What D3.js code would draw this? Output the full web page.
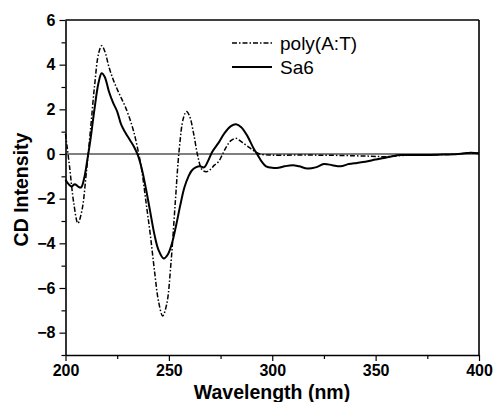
<!DOCTYPE html>
<html>
<head>
<meta charset="utf-8">
<script src="https://cdn.jsdelivr.net/npm/d3@7"></script>
<style>
  body { margin: 0; background: #fff; }
  text { font-family: "Liberation Sans", Arial, sans-serif; }
</style>
</head>
<body>
<div id="chart"></div>
<script>
// poly(A:T) (dash-dot)
var polyWl = [200, 202, 204, 206, 208, 210, 212, 214, 216, 217.5, 219, 221, 223, 225, 227, 229, 231, 233, 235, 237, 239, 241, 243, 245, 247, 249, 251, 253, 255, 257, 258.5, 260, 262, 264, 266, 268, 270, 272, 274, 276, 278, 280, 282.5, 285, 288, 291, 294, 300, 310, 320, 330, 340, 348, 355, 365, 380, 390, 396, 400];
var polyCd = [0.9, -0.6, -2.2, -3.1, -2.5, -0.9, 1.0, 3.0, 4.5, 4.85, 4.6, 3.9, 3.35, 2.9, 2.5, 2.1, 1.6, 1.0, 0.2, -0.8, -2.2, -3.6, -5.2, -6.6, -7.25, -6.7, -4.9, -2.3, 0.2, 1.6, 1.9, 1.7, 0.9, -0.1, -0.7, -0.8, -0.7, -0.5, -0.35, 0.0, 0.35, 0.6, 0.7, 0.55, 0.35, 0.15, 0.0, -0.05, -0.05, -0.05, -0.06, -0.08, -0.1, -0.12, -0.05, -0.03, 0.0, 0.05, 0.02];

// Sa6 (solid)
var sa6Wl = [200, 201.5, 203, 204.5, 206, 207.5, 209, 210.5, 212, 214, 216, 217.5, 219, 221, 223, 225, 227, 229, 231, 233, 235, 237, 239, 241, 243, 245, 247.5, 249.5, 251.5, 253.5, 255.5, 257.5, 259.5, 261, 263, 265, 267, 269, 271, 274, 277, 280, 282.5, 285, 288, 291, 293, 295, 297, 300, 303, 306, 310, 313, 317, 321, 325, 329, 333, 337, 341, 345, 350, 354, 358, 362, 370, 380, 390, 396, 400];
var sa6Cd = [-1.15, -1.35, -1.45, -1.35, -1.45, -1.5, -1.1, -0.3, 0.6, 2.0, 3.2, 3.62, 3.45, 2.8, 2.3, 1.9, 1.3, 0.95, 0.65, 0.35, -0.05, -0.7, -1.6, -2.6, -3.6, -4.3, -4.68, -4.5, -4.0, -3.2, -2.3, -1.5, -1.0, -0.75, -0.6, -0.55, -0.6, -0.3, 0.1, 0.5, 0.95, 1.25, 1.33, 1.2, 0.8, 0.25, -0.05, -0.35, -0.55, -0.62, -0.62, -0.55, -0.5, -0.55, -0.65, -0.6, -0.45, -0.5, -0.55, -0.45, -0.4, -0.35, -0.25, -0.18, -0.1, -0.05, -0.05, -0.03, 0.0, 0.06, 0.03];

var xTicks = [200, 250, 300, 350, 400];
var yTicks = [-8, -6, -4, -2, 0, 2, 4, 6];
var legendNames = ["poly(A:T)", "Sa6"];

var svgWidth = 493;
var svgHeight = 402;
var margin = { top: 20, right: 14, bottom: 47, left: 65.5 };
var chartWidth = svgWidth - margin.left - margin.right;
var chartHeight = svgHeight - margin.top - margin.bottom;

var svg = d3.select("#chart").append("svg")
    .attr("width", svgWidth)
    .attr("height", svgHeight);

var chartGroup = svg.append("g")
    .attr("transform", `translate(${margin.left}, ${margin.top})`);

var xScale = d3.scaleLinear().domain([200, 400]).range([0, chartWidth]);
var yScale = d3.scaleLinear().domain([-9, 6]).range([chartHeight, 0]);

// zero line
chartGroup.append("line")
    .attr("x1", 0).attr("x2", chartWidth)
    .attr("y1", yScale(0)).attr("y2", yScale(0))
    .attr("stroke", "#000").attr("stroke-width", 1);

// minor ticks
chartGroup.append("g")
    .attr("transform", `translate(0, ${chartHeight})`)
    .call(d3.axisBottom(xScale).tickValues([225, 275, 325, 375]).tickSize(4).tickFormat(""))
    .call(g => g.select(".domain").remove())
    .selectAll("line").attr("stroke-width", 1.2);
chartGroup.append("g")
    .call(d3.axisLeft(yScale).tickValues([-9, -7, -5, -3, -1, 1, 3, 5]).tickSize(4).tickFormat(""))
    .call(g => g.select(".domain").remove())
    .selectAll("line").attr("stroke-width", 1.2);

// major axes
var xAxisG = chartGroup.append("g")
    .attr("transform", `translate(0, ${chartHeight})`)
    .call(d3.axisBottom(xScale).tickValues(xTicks).tickSize(6).tickPadding(4).tickSizeOuter(0));
xAxisG.selectAll("text")
    .attr("font-size", 16).attr("font-weight", "bold").attr("font-family", "Liberation Sans, Arial, sans-serif");

var yAxisG = chartGroup.append("g")
    .call(d3.axisLeft(yScale).tickValues(yTicks).tickSize(6).tickPadding(4).tickSizeOuter(0));
yAxisG.selectAll("text")
    .attr("font-size", 16).attr("font-weight", "bold").attr("font-family", "Liberation Sans, Arial, sans-serif");

[xAxisG, yAxisG].forEach(g => {
    g.select(".domain").attr("stroke-width", 1.6);
    g.selectAll(".tick line").attr("stroke-width", 1.2);
});

// top and right frame
chartGroup.append("line")
    .attr("x1", 0).attr("x2", chartWidth).attr("y1", 0).attr("y2", 0)
    .attr("stroke", "#000").attr("stroke-width", 1.6);
chartGroup.append("line")
    .attr("x1", chartWidth).attr("x2", chartWidth).attr("y1", 0).attr("y2", chartHeight)
    .attr("stroke", "#000").attr("stroke-width", 1.6);

// lines
var line = d3.line()
    .x(d => xScale(d[0]))
    .y(d => yScale(d[1]))
    .curve(d3.curveCatmullRom);

chartGroup.append("path")
    .datum(polyWl.map((w, i) => [w, polyCd[i]]))
    .attr("d", line)
    .attr("fill", "none")
    .attr("stroke", "#000")
    .attr("stroke-width", 1.5)
    .attr("stroke-dasharray", "5,2,1.5,2");

chartGroup.append("path")
    .datum(sa6Wl.map((w, i) => [w, sa6Cd[i]]))
    .attr("d", line)
    .attr("fill", "none")
    .attr("stroke", "#000")
    .attr("stroke-width", 2);

// legend
var legend = svg.append("g");
legendNames.forEach((name, i) => {
    var y = 43 + i * 24;
    legend.append("line")
        .attr("x1", 232).attr("x2", 272)
        .attr("y1", y).attr("y2", y)
        .attr("stroke", "#000")
        .attr("stroke-width", i === 0 ? 1.5 : 2)
        .attr("stroke-dasharray", i === 0 ? "5,2,1.5,2" : null);
    legend.append("text")
        .attr("x", 280).attr("y", y + 7)
        .attr("font-size", 19)
        .text(name);
});

// axis titles
svg.append("text")
    .attr("transform", `translate(28, ${margin.top + chartHeight / 2 + 2}) rotate(-90)`)
    .attr("text-anchor", "middle")
    .attr("font-size", 19.5)
    .attr("font-weight", "bold")
    .text("CD Intensity");

svg.append("text")
    .attr("x", 272)
    .attr("y", 399)
    .attr("text-anchor", "middle")
    .attr("font-size", 19.5)
    .attr("font-weight", "bold")
    .text("Wavelength (nm)");
</script>
</body>
</html>
